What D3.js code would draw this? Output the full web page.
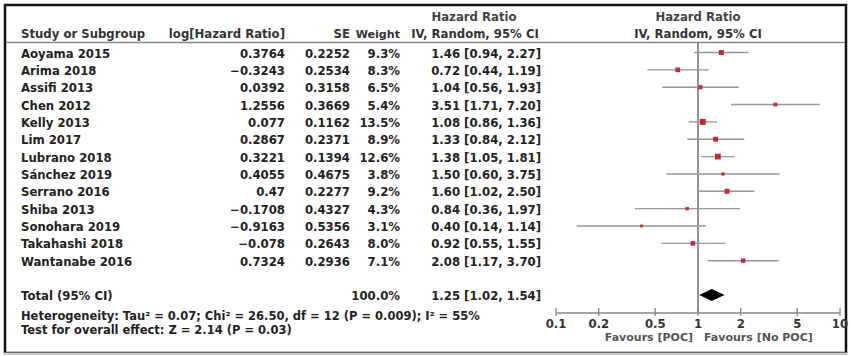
<!DOCTYPE html>
<html>
<head>
<meta charset="utf-8">
<script src="https://cdn.jsdelivr.net/npm/d3@7"></script>
<style>
	body { margin: 0; background: #fff; }
	text { font-family: "DejaVu Sans", sans-serif; font-weight: bold; fill: #222; }
</style>
</head>
<body>
<div id="chart"></div>
<script>
"use strict";

var studies = ["Aoyama 2015", "Arima 2018", "Assifi 2013", "Chen 2012", "Kelly 2013", "Lim 2017", "Lubrano 2018",
	"Sánchez 2019", "Serrano 2016", "Shiba 2013", "Sonohara 2019", "Takahashi 2018", "Wantanabe 2016"];
var logHR = ["0.3764", "−0.3243", "0.0392", "1.2556", "0.077", "0.2867", "0.3221", "0.4055", "0.47", "−0.1708", "−0.9163", "−0.078", "0.7324"];
var seVals = ["0.2252", "0.2534", "0.3158", "0.3669", "0.1162", "0.2371", "0.1394", "0.4675", "0.2277", "0.4327", "0.5356", "0.2643", "0.2936"];
var weights = [9.3, 8.3, 6.5, 5.4, 13.5, 8.9, 12.6, 3.8, 9.2, 4.3, 3.1, 8.0, 7.1];
var hr = [1.46, 0.72, 1.04, 3.51, 1.08, 1.33, 1.38, 1.50, 1.60, 0.84, 0.40, 0.92, 2.08];
var lower = [0.94, 0.44, 0.56, 1.71, 0.86, 0.84, 1.05, 0.60, 1.02, 0.36, 0.14, 0.55, 1.17];
var upper = [2.27, 1.19, 1.93, 7.20, 1.36, 2.12, 1.81, 3.75, 2.50, 1.97, 1.14, 1.55, 3.70];
var total = { weight: 100.0, hr: 1.25, lower: 1.02, upper: 1.54 };
var axisTicks = [0.1, 0.2, 0.5, 1, 2, 5, 10];
var heterogeneity = "Heterogeneity: Tau² = 0.07; Chi² = 26.50, df = 12 (P = 0.009); I² = 55%";
var overallTest = "Test for overall effect: Z = 2.14 (P = 0.03)";
var favours = ["Favours [POC]", "Favours [No POC]"];

var W = 851, H = 356;
var svg = d3.select("#chart").append("svg").attr("width", W).attr("height", H);

var x = d3.scaleLog().domain([0.1, 10]).range([556, 840]);
var y = d3.scaleLinear().domain([0, 1]).range([52.5, 69.85]);
var sq = d3.scaleSqrt().domain([0, 13.5]).range([0, 6]);

function fmt2(v) { return v.toFixed(2); }
function ciText(h, l, u) { return fmt2(h) + " [" + fmt2(l) + ", " + fmt2(u) + "]"; }

function label(txt, px, py, anchor, size, colour) {
	return svg.append("text").attr("x", px).attr("y", py)
		.attr("text-anchor", anchor || "start")
		.style("font-size", (size || 11.7) + "px")
		.style("fill", colour || "#222")
		.text(txt);
}

// frame
svg.append("rect").attr("x", 5).attr("y", 5).attr("width", 841).attr("height", 348)
	.attr("fill", "none").attr("stroke", "#111").attr("stroke-width", 2.5);
svg.append("line").attr("x1", 4).attr("x2", 847).attr("y1", 353.5).attr("y2", 353.5)
	.attr("stroke", "#ccc").attr("stroke-width", 2);
svg.append("line").attr("x1", 6).attr("x2", 845).attr("y1", 42.5).attr("y2", 42.5)
	.attr("stroke", "#888").attr("stroke-width", 1.3);

// headers
label("Study or Subgroup", 21, 38, "start", 11.7, "#333");
label("log[Hazard Ratio]", 285, 38, "end", 11.7, "#333");
label("SE", 350, 38, "end", 11.7, "#333");
label("Weight", 400, 38, "end", 11.1, "#333");
label("Hazard Ratio", 474, 21, "middle", 11.7, "#444");
label("IV, Random, 95% CI", 475, 38, "middle", 11.7, "#333");
label("Hazard Ratio", 698, 21, "middle", 11.7, "#444");
label("IV, Random, 95% CI", 698, 38, "middle", 11.7, "#333");

// study rows
studies.forEach(function(name, i) {
	var base = y(i) + 5;
	label(name, 21, base);
	label(logHR[i], 285, base, "end");
	label(seVals[i], 350, base, "end");
	label(weights[i].toFixed(1) + "%", 400, base, "end");
	label(ciText(hr[i], lower[i], upper[i]), 541, base, "end");
});

// null line
svg.append("line").attr("x1", x(1)).attr("x2", x(1)).attr("y1", 43).attr("y2", 313)
	.attr("stroke", "#7a7a7a").attr("stroke-width", 1.6);

var plot = svg.append("g");
plot.selectAll("line.ci").data(studies).enter().append("line").attr("class", "ci")
	.attr("x1", function(d, i) { return x(lower[i]); })
	.attr("x2", function(d, i) { return x(upper[i]); })
	.attr("y1", function(d, i) { return y(i); })
	.attr("y2", function(d, i) { return y(i); })
	.attr("stroke", "#969696").attr("stroke-width", 1.4);
plot.selectAll("rect.pt").data(studies).enter().append("rect").attr("class", "pt")
	.attr("x", function(d, i) { return x(hr[i]) - sq(weights[i]) / 2; })
	.attr("y", function(d, i) { return y(i) - sq(weights[i]) / 2; })
	.attr("width", function(d, i) { return sq(weights[i]); })
	.attr("height", function(d, i) { return sq(weights[i]); })
	.attr("fill", "#c42a32");

// total
var totalY = 295;
label("Total (95% CI)", 21, 300);
label(total.weight.toFixed(1) + "%", 400, 300, "end");
label(ciText(total.hr, total.lower, total.upper), 541, 300, "end");
svg.append("path")
	.attr("d", "M" + x(total.lower) + "," + totalY + "L" + x(total.hr) + "," + (totalY - 6) +
		"L" + x(total.upper) + "," + totalY + "L" + x(total.hr) + "," + (totalY + 6) + "Z")
	.attr("fill", "#000");

label(heterogeneity, 21, 320, "start", 11.5);
label(overallTest, 21, 334, "start", 11.5);

// axis
var axis = svg.append("g").attr("transform", "translate(0,313)");
axis.append("line").attr("x1", x(0.1)).attr("x2", x(10)).attr("y1", 0).attr("y2", 0)
	.attr("stroke", "#888").attr("stroke-width", 1.5);
axis.selectAll("line.tick").data(axisTicks).enter().append("line").attr("class", "tick")
	.attr("x1", function(d) { return x(d); }).attr("x2", function(d) { return x(d); })
	.attr("y1", -5).attr("y2", 3).attr("stroke", "#888").attr("stroke-width", 1.3);
axis.selectAll("text.tl").data(axisTicks).enter().append("text").attr("class", "tl")
	.attr("x", function(d) { return x(d); }).attr("y", 15)
	.attr("text-anchor", "middle").style("font-size", "11.7px").style("fill", "#333")
	.text(function(d) { return d; });

label(favours[0], x(1) - 5, 341, "end", 11, "#555");
label(favours[1], x(1) + 6, 341, "start", 11, "#555");
</script>
</body>
</html>
